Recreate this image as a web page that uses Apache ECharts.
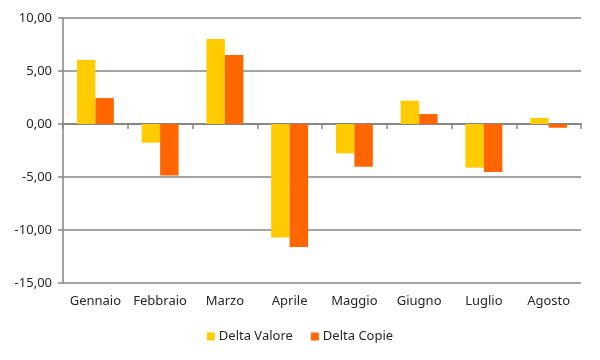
<!DOCTYPE html>
<html>
<head>
<meta charset="utf-8">
<script src="https://cdn.jsdelivr.net/npm/echarts@6/dist/echarts.min.js"></script>
<style>html,body{margin:0;padding:0;background:#fff}#c{width:600px;height:360px}</style>
</head>
<body>
<div id="c"></div>
<script>
const categories = ['Gennaio','Febbraio','Marzo','Aprile','Maggio','Giugno','Luglio','Agosto'];
const deltaValore = [6.04, -1.76, 8.02, -10.7, -2.77, 2.2, -4.12, 0.57];
const deltaCopie = [2.45, -4.87, 6.5, -11.6, -4.03, 0.94, -4.53, -0.35];
const seriesNames = ['Delta Valore', 'Delta Copie'];

const FONT = 'Noto Sans';
const TXT = '#262626';
const GRID = '#868686';

const chart = echarts.init(document.getElementById('c'), null, {renderer: 'canvas'});
chart.setOption({
  animation: false,
  textStyle: {fontFamily: FONT},
  legend: {
    data: seriesNames,
    bottom: 12,
    left: 'center',
    itemWidth: 8,
    itemHeight: 8,
    itemGap: 18,
    icon: 'rect',
    textStyle: {fontFamily: FONT, fontSize: 13, color: TXT, padding: [0, 0, 0, -1]}
  },
  grid: {left: 63, right: 19, top: 18, bottom: 77, containLabel: false},
  xAxis: [
    {
      type: 'category',
      data: categories,
      position: 'bottom',
      axisLine: {show: false, onZero: false},
      axisTick: {show: false},
      axisLabel: {fontFamily: FONT, fontSize: 13, color: TXT, margin: 12, interval: 0}
    },
    {
      type: 'category',
      data: categories,
      position: 'bottom',
      axisLine: {show: true, onZero: true, onZeroAxisIndex: 0, lineStyle: {color: GRID, width: 2}},
      axisTick: {show: true, length: 5, interval: 0, lineStyle: {color: GRID, width: 1.5}},
      axisLabel: {show: false}
    }
  ],
  yAxis: {
    type: 'value',
    min: -15,
    max: 10,
    interval: 5,
    axisLine: {show: true, lineStyle: {color: GRID, width: 1.5}},
    axisTick: {show: true, length: 5, lineStyle: {color: GRID, width: 1.5}},
    splitLine: {show: true, lineStyle: {color: GRID, width: 1.5}},
    axisLabel: {
      fontFamily: FONT, fontSize: 13, color: TXT, margin: 11,
      formatter: v => v.toFixed(2).replace('.', ',')
    }
  },
  series: [
    {name: seriesNames[0], type: 'bar', data: deltaValore, xAxisIndex: 0,
     itemStyle: {color: '#FFCC00'}, barWidth: '28.5%', barGap: '0%'},
    {name: seriesNames[1], type: 'bar', data: deltaCopie, xAxisIndex: 0,
     itemStyle: {color: '#FF6600'}, barWidth: '28.5%', barGap: '0%'}
  ]
});
</script>
</body>
</html>
